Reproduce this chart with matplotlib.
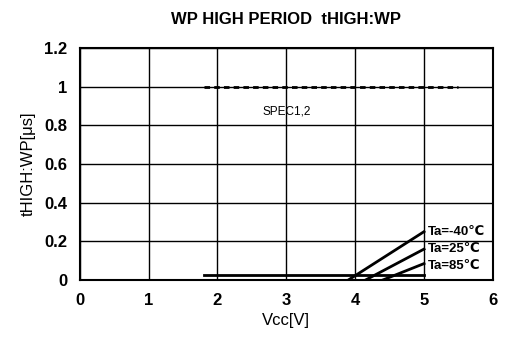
import matplotlib
matplotlib.use('Agg')
from matplotlib import pyplot as plt

plt.rcParams['font.family'] = ['Liberation Sans', 'DejaVu Sans']

spec_x = [1.8, 5.5]
spec_y = [1.0, 1.0]
base_x = [1.8, 5.0]
base_y = [0.025, 0.025]
temps = ['Ta=-40℃', 'Ta=25℃', 'Ta=85℃']
temp_x = [[3.9, 5.0], [4.15, 5.0], [4.4, 5.0]]
temp_y = [[0.0, 0.25], [0.0, 0.16], [0.0, 0.085]]
label_y = [0.25, 0.16, 0.075]

fig = plt.figure(dpi=100, figsize=(5.05, 3.47))
ax = fig.add_axes([0.158, 0.193, 0.818, 0.669])

ax.plot(spec_x, spec_y, color='black', linestyle=(0, (2, 1.5)), linewidth=2)
ax.text(3.0, 0.87, 'SPEC1,2', ha='center', va='center', fontsize=8.5)
ax.plot(base_x, base_y, color='black', linewidth=2)
for name, xs, ys, ly in zip(temps, temp_x, temp_y, label_y):
    ax.plot(xs, ys, color='black', linewidth=2)
    ax.text(5.05, ly, name, ha='left', va='center', fontsize=9.5,
            fontweight='bold', clip_on=False)

ax.set_xlim(0, 6)
ax.set_ylim(0, 1.2)
ax.set_xticks(range(7))
ax.set_yticks([0, 0.2, 0.4, 0.6, 0.8, 1, 1.2])
ax.set_yticklabels(['0', '0.2', '0.4', '0.6', '0.8', '1', '1.2'])
ax.grid(True, color='black', linewidth=1)
ax.tick_params(length=0, labelsize=12, pad=9)
for lab in ax.get_xticklabels() + ax.get_yticklabels():
    lab.set_fontweight('bold')
for s in ax.spines.values():
    s.set_linewidth(1.5)

ax.set_title('WP HIGH PERIOD  tHIGH:WP', fontsize=12, fontweight='bold', pad=17)
ax.set_xlabel('Vcc[V]', fontsize=12, labelpad=4)
ax.set_ylabel('tHIGH:WP[\u03bcs]', fontsize=12, labelpad=6)

plt.savefig('out.png', dpi=100)
